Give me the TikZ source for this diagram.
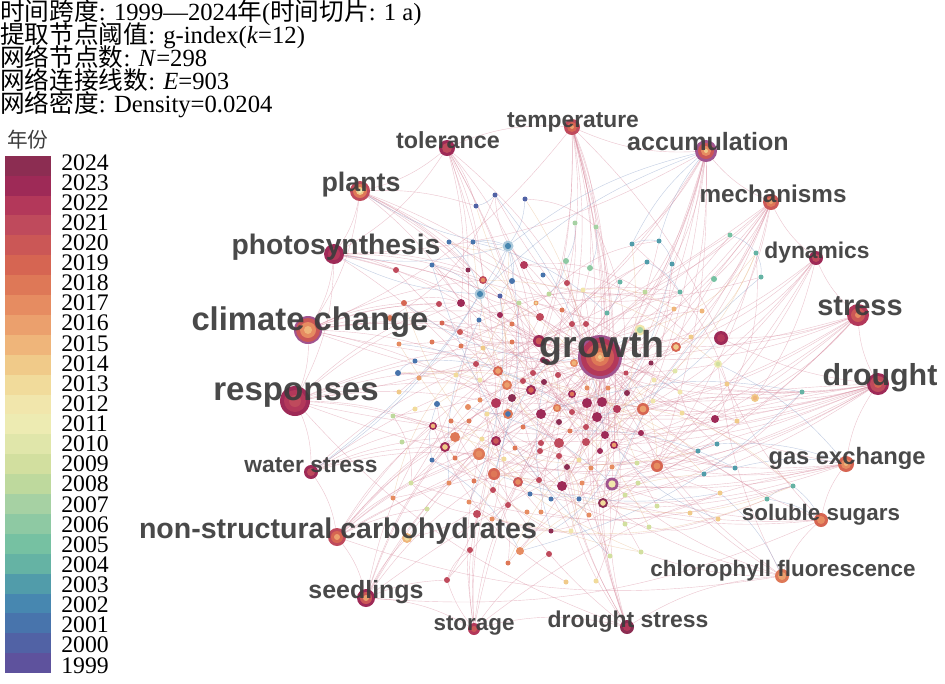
\documentclass[tikz,border=0pt]{standalone}
\usepackage{fontspec}
\setmainfont{Liberation Serif}
\newfontfamily\cjk{Noto Sans CJK SC}
\newfontfamily\kwfam{Liberation Sans}
\pgfdeclarelayer{bg}
\pgfsetlayers{bg,main}
\definecolor{y24}{HTML}{8C2D52}
\definecolor{y23}{HTML}{9E2A57}
\definecolor{y22}{HTML}{B3385A}
\definecolor{y21}{HTML}{BF4A5C}
\definecolor{y20}{HTML}{CB5756}
\definecolor{y19}{HTML}{D66552}
\definecolor{y18}{HTML}{DE7857}
\definecolor{y17}{HTML}{E68C61}
\definecolor{y16}{HTML}{EBA06D}
\definecolor{y15}{HTML}{EFB57A}
\definecolor{y14}{HTML}{F0CA89}
\definecolor{y13}{HTML}{F1DB9B}
\definecolor{y12}{HTML}{F1E6AC}
\definecolor{y11}{HTML}{EDEBB2}
\definecolor{y10}{HTML}{E0E6AA}
\definecolor{y09}{HTML}{D2DF9F}
\definecolor{y08}{HTML}{BED99D}
\definecolor{y07}{HTML}{A6D1A3}
\definecolor{y06}{HTML}{8EC9A3}
\definecolor{y05}{HTML}{76C1A2}
\definecolor{y04}{HTML}{65B3A4}
\definecolor{y03}{HTML}{519CAA}
\definecolor{y02}{HTML}{4787B0}
\definecolor{y01}{HTML}{4874AC}
\definecolor{y00}{HTML}{5162A5}
\definecolor{y99}{HTML}{5E529D}
\definecolor{purp}{HTML}{A0548F}
\definecolor{kwgray}{HTML}{3C3C3C}
\definecolor{epink}{HTML}{D88A9E}
\definecolor{eblue}{HTML}{8FA5CC}
\definecolor{eyel}{HTML}{E8B98A}
\newcommand\mkhub[3]{%
  \coordinate (#1) at #2;
  \foreach \rr/\cc [count=\ii] in {#3}{\node[dot, fill=\cc, minimum size=\rr*1.5pt] (#1-\ii) at (#1) {};}%
}
\begin{document}
\begin{tikzpicture}[x=0.75pt,y=-0.75pt,
  dot/.style={circle, inner sep=0pt, draw=none},
  edge/.style={draw=epink, line width=0.3pt, opacity=0.5},
  edgeb/.style={draw=eblue, line width=0.3pt, opacity=0.55},
  edgey/.style={draw=eyel, line width=0.3pt, opacity=0.5},
  kw/.style={text=kwgray, text opacity=0.93, inner sep=0pt, anchor=base},
  hdr/.style={anchor=base west, inner sep=0pt, font=\fontsize{18.5}{18.5}\selectfont},
  leglab/.style={anchor=base west, inner sep=0pt, font=\fontsize{17.8}{17.8}\selectfont}]
\useasboundingbox (0,0) rectangle (945,683);

% ---------- small keyword dots ----------
\foreach \n/\x/\y/\r/\c/\ci in {
1/495/195/2.5/y00/y00, 2/525/199/2.5/y00/y00, 3/476/206/2.5/y00/y00, 4/449/242/2.5/y01/y01,
5/473/242/2.5/y01/y01, 6/508/246/5.5/y02!45/y02, 7/575/223/2.5/y07/y07, 8/596/227/2.5/y07/y07,
9/632/244/2.5/y03/y03, 10/659/241/2.5/y03/y03, 11/647/262/2.5/y03/y03, 12/672/264/2.5/y03/y03,
13/566/261/3/y06/y06, 14/590/268/3/y06/y06, 15/432/265/2.5/y01/y01, 16/468/270/2.5/y24/y24,
17/524/265/4/y22/y22, 18/483/280/4/y21/y17, 19/512/281/3/y01/y01, 20/543/275/2.5/y01/y01,
21/567/283/3/y21/y21, 22/583/290/2.5/y12/y12, 23/620/282/2.5/y04/y04, 24/480/294/5.5/y02!45/y02,
25/500/296/2.5/y00/y00, 26/549/294/2.5/y08/y08, 27/645/292/2.5/y08/y08, 28/680/292/2.5/y04/y04,
29/404/303/3/y19/y19, 30/439/304/3/y21/y21, 31/461/303/4/y23/y23, 32/519/303/2.5/y08/y08,
33/536/303/2.5/y16/y13, 34/562/310/2.5/y18/y18, 35/607/313/2.5/y04/y04, 36/674/309/2.5/y15/y15,
37/479/320/2.5/y01/y01, 38/500/315/3/y23/y23, 39/540/317/4/y21/y21, 40/442/323/2.5/y19/y19,
41/512/324/2.5/y18/y18, 42/572/324/3/y21/y21, 43/586/324/3/y21/y21, 44/460/332/3/y20/y20,
45/640/330/5.5/y12/y07, 46/691/337/2.5/y14/y14, 47/432/342/2.5/y18/y18, 48/461/346/2.5/y18/y18,
49/512/342/2.5/y18/y18, 50/539/341/6/y23/y20, 51/547/362/3/y24/y24, 52/574/363/4/y17/y15,
53/676/347/5/y19/y14, 54/651/363/2.5/y24/y24, 55/675/371/2.5/y10/y10, 56/415/361/2.5/y01/y01,
57/483/348/2.5/y14/y14, 58/476/364/3/y21/y21, 59/498/371/5/y19/y16, 60/533/373/3/y21/y21,
61/558/375/3/y21/y21, 62/456/375/2.5/y13/y13, 63/626/373/2.5/y21/y21, 64/396/270/3/y21/y21,
65/390/318/3/y18/y18, 66/399/344/2.5/y17/y17, 67/398/373/3/y01/y01, 68/419/378/2.5/y16/y16,
69/480/380/2.5/y12/y12, 70/507/385/5/y18/y16, 71/523/381/3/y21/y21, 72/531/390/5/y23/y19,
73/544/382/3/y24/y24, 74/399/392/2.5/y14/y14, 75/437/404/3/y01/y01, 76/468/407/3/y17/y17,
77/480/400/2.5/y17/y17, 78/496/403/5/y22/y22, 79/512/398/4/y24/y24, 80/572/394/4/y23/y18,
81/587/388/2.5/y17/y17, 82/608/388/2.5/y17/y17, 83/627/393/3/y24/y24, 84/587/403/5/y23/y23,
85/602/402/5/y23/y23, 86/617/409/4/y22/y22, 87/643/409/6/y19/y16, 88/508/414/5/y18/y01,
89/541/414/5/y23/y23, 90/557/408/4/y18/y16, 91/572/412/3/y21/y21, 92/597/417/5/y23/y23,
93/415/409/2.5/y13/y13, 94/393/416/2.5/y08/y08, 95/433/426/4/y23/y15, 96/451/421/2.5/y18/y18,
97/469/421/2.5/y18/y18, 98/487/414/2.5/y13/y13, 99/523/427/2.5/y18/y18, 100/559/422/3/y24/y24,
101/570/431/2.5/y18/y18, 102/586/427/3/y21/y21, 103/605/435/4/y23/y23, 104/614/445/4/y23/y16,
105/641/433/3/y23/y23, 106/559/443/5/y21/y21, 107/586/442/4/y21/y21, 108/455/437/5/y18/y18,
109/445/447/5/y23/y14, 110/496/441/5/y23/y20, 111/541/443/3/y21/y21, 112/402/442/2.5/y08/y08,
113/482/439/2.5/y13/y13, 114/515/448/2.5/y18/y18, 115/559/456/3/y21/y21, 116/600/451/3/y23/y23,
117/479/454/6/y18/y17, 118/432/460/2.5/y01/y01, 119/455/458/2.5/y18/y18, 120/504/459/2.5/y13/y13,
121/540/451/3/y21/y21, 122/567/467/3/y24/y24, 123/579/460/2.5/y13/y13, 124/591/468/2.5/y17/y17,
125/612/467/2.5/y17/y17, 126/637/463/2.5/y09/y09, 127/657/466/6/y19/y17, 128/494/474/6/y19/y18,
129/518/482/5/y20/y17, 130/539/480/3/y21/y21, 131/562/486/5/y23/y23, 132/612/484/6.5/purp/y12,
133/582/483/2.5/y17/y17, 134/411/483/2.5/y09/y09, 135/449/483/2.5/y17/y17, 136/474/481/2.5/y18/y18,
137/493/490/3/y21/y21, 138/530/494/2.5/y01/y01, 139/551/499/2.5/y01/y01, 140/579/499/2.5/y01/y01,
141/603/503/5/y24/y13, 142/638/483/2.5/y09/y09, 143/625/495/2.5/y09/y09, 144/393/498/2.5/y17/y17,
145/469/502/2.5/y17/y17, 146/508/505/3/y21/y21, 147/427/509/2.5/y09/y09, 148/477/514/4/y21/y21,
149/527/512/2.5/y17/y17, 150/541/512/2.5/y17/y17, 151/589/515/2.5/y17/y17, 152/657/506/2.5/y09/y09,
153/492/519/2.5/y17/y17, 154/407/538/5/y15/y13, 155/551/531/2.5/y24/y24, 156/571/531/2.5/y12/y12,
157/470/550/3/y21/y21, 158/520/551/4/y17/y17, 159/549/554/3/y21/y21, 160/508/563/2.5/y18/y18,
161/610/556/2.5/y09/y09, 162/641/552/2.5/y09/y09, 163/447/580/3/y21/y21, 164/566/582/2.5/y14/y14,
165/596/581/2.5/y13/y13, 166/649/527/2.5/y09/y09, 167/625/524/2.5/y09/y09, 168/690/513/2.5/y14/y14,
169/718/519/2.5/y14/y14, 170/720/493/2.5/y14/y14, 171/767/499/2.5/y04/y04, 172/793/486/2.5/y04/y04,
173/698/451/2.5/y03/y03, 174/717/444/2.5/y03/y03, 175/704/474/2.5/y03/y03, 176/735/468/2.5/y03/y03,
177/730/235/2.5/y05/y05, 178/756/253/2.5/y04/y04, 179/714/279/3/y05/y05, 180/761/277/2.5/y04/y04,
181/702/311/2.5/y15/y15, 182/721/338/7/y23/y22, 183/718/364/4/y11/y09, 184/654/380/2.5/y12/y12,
185/680/392/2.5/y12/y12, 186/727/384/2.5/y14/y14, 187/755/398/4/y14/y15, 188/802/392/2.5/y04/y04,
189/653/401/2.5/y12/y12, 190/682/413/2.5/y13/y13, 191/715/419/4/y23/y23, 192/737/421/2.5/y14/y14,
193/543/360/3/y24/y24}
{
  \node[dot, fill=\c, minimum size=\r*1.5pt] (d\n) at (\x,\y) {};
  \node[dot, fill=\ci, minimum size=\r*0.85pt] (di\n) at (d\n) {};
}

% ---------- labelled keyword nodes ----------
\mkhub{temp}{(572,127)}{8/y21, 5/y19, 2/y16}
\mkhub{tol}{(447,148)}{8/y23, 5/y21}
\mkhub{acc}{(706,151)}{11/purp, 8/y20, 5/y17, 2/y14}
\mkhub{plants}{(360,191)}{10/y21, 7/y18, 4/y14, 2/y11}
\mkhub{mech}{(771,202)}{8/y20, 5/y18, 2/y16}
\mkhub{photo}{(334,254)}{10/y23, 6/y22}
\mkhub{dyn}{(816,258)}{7/y23, 4/y21}
\mkhub{stress}{(858,315)}{11/y22, 7/y20, 3/y17}
\mkhub{clim}{(308,330)}{14/purp, 12/y20, 8/y17, 4/y15}
\mkhub{growth}{(600,357)}{22/purp, 19/y22, 14/y20, 9/y18, 5/y16, 2/y14}
\mkhub{drought}{(878,384)}{11/y23, 8/y21, 4/y19}
\mkhub{resp}{(295,401)}{15/y23, 11/y22, 6/y21}
\mkhub{ws}{(311,472)}{7/y23, 4/y21}
\mkhub{gas}{(846,464)}{8/y19, 5/y17, 2/y15}
\mkhub{sol}{(821,520)}{7/y19, 4/y17}
\mkhub{nsc}{(337,537)}{9/y21, 6/y19, 3/y16}
\mkhub{chl}{(782,576)}{7/y18, 4/y16}
\mkhub{seed}{(366,598)}{9/y23, 6/y20, 3/y16}
\mkhub{ds}{(627,627)}{7/y24, 4/y22}
\mkhub{stor}{(474,629)}{6/y22, 3/y20}

% ---------- connectors ----------
\begin{pgfonlayer}{bg}
\fill[white] (0,0) rectangle (945,683);
\foreach \h/\l in {
 growth/{17,21,31,38,39,42,43,50,52,53,60,61,72,80,84,85,89,92,103,106,107,110,116,127,128,131,141,182,87,78},
 temp/{42,50,84,104,132,182,14,8,21,60,92,116,141},
 tol/{18,31,39,72,89,110,3,16},
 acc/{9,12,27,50,53,84,103,106,127,131,141,59},
 mech/{27,53,87,110,127,131,182,179,181,59,128},
 dyn/{53,87,127,141,182,104,187},
 stress/{53,87,104,127,182,187,141,92,131},
 drought/{182,87,103,104,127,131,132,141,186,187,110,128,92},
 gas/{127,132,141,128,104},
 sol/{132,141,131,183},
 chl/{132,141,127,183,162},
 ds/{132,141,131,122,106,92,84,128},
 stor/{128,129,148,117,110,159,163},
 seed/{117,108,128,154,109,95,163},
 nsc/{117,108,128,95,59,78,110,134,147},
 ws/{95,108,109,117,58},
 resp/{95,108,78,59,50,72,30,31},
 clim/{29,30,31,39,50,78,58,44,18},
 photo/{16,18,31,39,50,64,78},
 plants/{16,18,31,38,39,50,3}}
{\foreach \d in \l {\draw[edge] (\h) to[bend left=10] (d\d);}}
\foreach \h/\l in {acc/{6,24,9,10}, photo/{6,24}, plants/{6}, gas/{174,176,183}, sol/{172,171}, chl/{170}, ws/{6,24}}
{\foreach \d in \l {\draw[edgeb] (\h) to[bend right=12] (d\d);}}
\foreach \a/\b in {tol/temp, tol/plants, tol/photo, plants/photo, plants/clim, photo/clim, photo/resp,
 clim/resp, resp/ws, ws/nsc, nsc/seed, seed/stor, stor/ds, ds/chl, chl/sol, sol/gas, gas/drought,
 drought/stress, stress/dyn, dyn/mech, mech/acc, acc/temp, temp/growth, acc/growth, mech/growth,
 dyn/growth, stress/growth, drought/growth, gas/growth, sol/growth, chl/growth, ds/growth,
 stor/growth, seed/growth, nsc/growth, ws/growth, resp/growth, clim/growth, photo/growth,
 plants/growth, tol/growth, drought/resp, drought/clim, stress/clim, gas/resp, acc/photo,
 temp/clim, mech/resp, nsc/drought, seed/drought, ds/resp, chl/nsc, sol/seed, stor/gas}
{\draw[edge] (\a) to[bend left=14] (\b);}
\foreach \a/\b in {1/3, 2/6, 4/24, 5/6, 6/19, 9/10, 10/12, 11/28, 23/35, 177/178, 178/180, 173/174,
 175/176, 171/172, 138/139, 139/140, 24/37, 6/24, 15/24, 25/19, 7/13, 8/14, 13/26, 67/56, 118/75}
{\draw[edgeb] (d\a) to[bend left=15] (d\b);}
\pgfmathsetseed{11}
\foreach \k in {1,...,140}{
  \pgfmathrandominteger{\a}{1}{193}\pgfmathrandominteger{\b}{1}{193}
  \draw[edge] (d\a) to[bend left=18] (d\b);}
\foreach \k in {1,...,40}{
  \pgfmathrandominteger{\a}{1}{193}\pgfmathrandominteger{\b}{1}{193}
  \draw[edgey] (d\a) to[bend right=18] (d\b);}
\foreach \k in {1,...,25}{
  \pgfmathrandominteger{\a}{1}{193}\pgfmathrandominteger{\b}{1}{193}
  \draw[edgeb] (d\a) to[bend right=14] (d\b);}
\end{pgfonlayer}

% ---------- keyword labels ----------
\foreach \nm/\x/\y/\s/\t in {
 tempL/573/127/17.1/temperature, tolL/448/148/17.5/tolerance, accL/708/150/18.8/accumulation,
 plantsL/361/191/20.1/plants, mechL/773/202/18.2/mechanisms, photoL/336/254/21.2/photosynthesis,
 dynL/817/258/17.1/dynamics, stressL/860/315/21.7/stress, climL/310/330/24.6/climate change,
 growthL/602/357/28.1/growth, droughtL/880/385/22.8/drought, respL/296/400/24.8/responses,
 wsL/311/472/17.1/water stress, gasL/847/464/17.8/gas exchange, solL/821/520/16.8/soluble sugars,
 nscL/338/538/21.4/non-structural carbohydrates, chlL/783/576/16.8/chlorophyll fluorescence,
 seedL/366/598/18.7/seedlings, dsL/628/627/17.2/drought stress, storL/474/630/16.8/storage}
{\node[kw, font=\kwfam\bfseries\fontsize{\s}{\s}\selectfont] (\nm) at (\x,\y) {\t};}

% ---------- header ----------
\node[hdr] (h1) at (0,20) {{\cjk 时间跨度}: 1999—2024{\cjk 年}({\cjk 时间切片}: 1 a)};
\node[hdr] (h2) at (0,43) {{\cjk 提取节点阈值}: g-index(\textit{k}=12)};
\node[hdr] (h3) at (0,66) {{\cjk 网络节点数}: \textit{N}=298};
\node[hdr] (h4) at (0,89) {{\cjk 网络连接线数}: \textit{E}=903};
\node[hdr] (h5) at (0,112) {{\cjk 网络密度}: Density=0.0204};

% ---------- legend ----------
\node[anchor=west, inner sep=0pt, font=\cjk\fontsize{15.5}{15.5}\selectfont, text=kwgray] (legt) at (7,140) {年份};
\foreach \c [count=\i from 0] in {y24,y23,y22,y21,y20,y19,y18,y17,y16,y15,y14,y13,y12,y11,y10,y09,y08,y07,y06,y05,y04,y03,y02,y01,y00,y99}
{\node[rectangle, fill=\c, draw=none, inner sep=0pt, anchor=north west, minimum width=34.5pt, minimum height=15.1pt] (leg\i) at (5,{155.5+19.9*\i}) {};}
\foreach \yr [count=\i from 0] in {2024,2023,...,1999}
{\node[leglab] (lab\yr) at (61,{170+20.12*\i}) {\yr};}
\end{tikzpicture}
\end{document}
